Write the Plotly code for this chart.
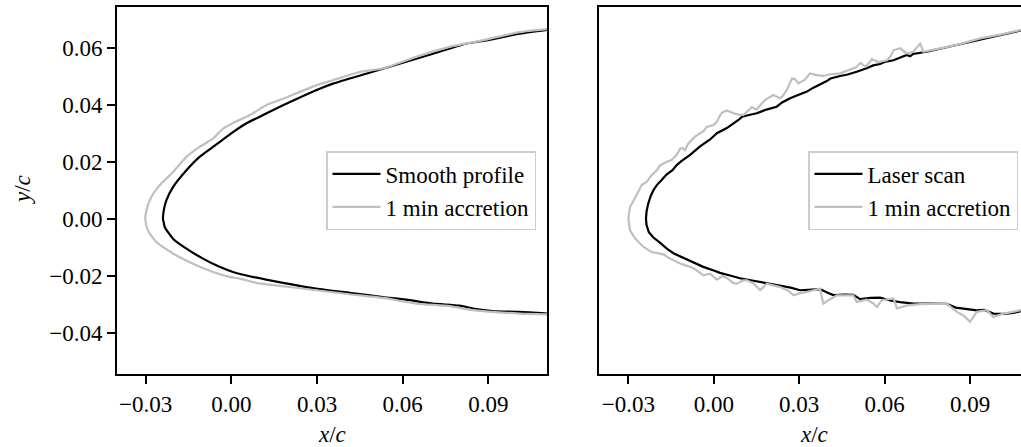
import plotly.graph_objects as go

# ---------------- data (x/c, y/c), traced from trailing edge (upper) -> nose -> trailing edge (lower)
smooth_profile = [
    (0.1110, 0.0665), (0.1009, 0.0651), (0.0892, 0.0628), (0.0822, 0.0616), (0.0706, 0.0581),
    (0.0589, 0.0546), (0.0472, 0.0511), (0.0356, 0.0476), (0.0297, 0.0453), (0.0181, 0.0400),
    (0.0122, 0.0371), (0.0052, 0.0336), (0.0006, 0.0306), (-0.0017, 0.0289), (-0.0064, 0.0254),
    (-0.0111, 0.0219), (-0.0157, 0.0172), (-0.0204, 0.0113), (-0.0227, 0.0067), (-0.0236, 0.0033),
    (-0.0239, 0.0000), (-0.0236, -0.0013), (-0.0233, -0.0027), (-0.0204, -0.0068), (-0.0157, -0.0103),
    (-0.0099, -0.0138), (-0.0041, -0.0167), (0.0006, -0.0185), (0.0064, -0.0200), (0.0181, -0.0223),
    (0.0297, -0.0243), (0.0414, -0.0258), (0.0531, -0.0273), (0.0612, -0.0282), (0.0706, -0.0296),
    (0.0799, -0.0303), (0.0846, -0.0313), (0.0915, -0.0322), (0.1009, -0.0325), (0.1110, -0.0331),
]

smooth_accretion = [
    (0.1110, 0.0668), (0.1009, 0.0657), (0.0880, 0.0628), (0.0764, 0.0605), (0.0647, 0.0570),
    (0.0531, 0.0529), (0.0449, 0.0517), (0.0356, 0.0488), (0.0297, 0.0470), (0.0181, 0.0423),
    (0.0122, 0.0400), (0.0064, 0.0365), (0.0006, 0.0338), (-0.0029, 0.0318), (-0.0064, 0.0283),
    (-0.0111, 0.0254), (-0.0157, 0.0219), (-0.0204, 0.0166), (-0.0251, 0.0119), (-0.0280, 0.0078),
    (-0.0297, 0.0032), (-0.0301, 0.0000), (-0.0292, -0.0039), (-0.0262, -0.0080), (-0.0204, -0.0120),
    (-0.0134, -0.0156), (-0.0064, -0.0185), (-0.0006, -0.0202), (0.0029, -0.0208), (0.0087, -0.0223),
    (0.0181, -0.0235), (0.0297, -0.0249), (0.0414, -0.0263), (0.0531, -0.0276), (0.0647, -0.0296),
    (0.0764, -0.0305), (0.0846, -0.0319), (0.1009, -0.0331), (0.1110, -0.0334),
]

laser_scan = [
    (0.1080, 0.0663), (0.0936, 0.0630), (0.0842, 0.0607), (0.0748, 0.0588), (0.0700, 0.0580),
    (0.0690, 0.0572), (0.0678, 0.0577), (0.0631, 0.0558), (0.0600, 0.0552), (0.0584, 0.0545),
    (0.0560, 0.0540), (0.0537, 0.0530), (0.0502, 0.0518), (0.0470, 0.0508), (0.0444, 0.0503),
    (0.0410, 0.0494), (0.0397, 0.0485), (0.0373, 0.0474), (0.0350, 0.0462), (0.0327, 0.0448),
    (0.0300, 0.0438), (0.0268, 0.0425), (0.0240, 0.0410), (0.0221, 0.0395), (0.0185, 0.0385),
    (0.0151, 0.0372), (0.0120, 0.0365), (0.0100, 0.0360), (0.0088, 0.0350), (0.0075, 0.0340),
    (0.0046, 0.0320), (0.0011, 0.0302), (-0.0013, 0.0280), (-0.0048, 0.0256), (-0.0083, 0.0226),
    (-0.0115, 0.0203), (-0.0130, 0.0190), (-0.0145, 0.0172), (-0.0165, 0.0158), (-0.0183, 0.0138),
    (-0.0200, 0.0120), (-0.0212, 0.0102), (-0.0222, 0.0080), (-0.0230, 0.0055), (-0.0236, 0.0028),
    (-0.0238, 0.0002), (-0.0236, -0.0020), (-0.0228, -0.0045), (-0.0212, -0.0064), (-0.0189, -0.0082),
    (-0.0165, -0.0103), (-0.0140, -0.0120), (-0.0107, -0.0135), (-0.0075, -0.0150), (-0.0037, -0.0167),
    (0.0000, -0.0180), (0.0022, -0.0188), (0.0060, -0.0198), (0.0092, -0.0207), (0.0130, -0.0214),
    (0.0163, -0.0220), (0.0200, -0.0227), (0.0233, -0.0232), (0.0270, -0.0240), (0.0303, -0.0249),
    (0.0330, -0.0247), (0.0373, -0.0245), (0.0400, -0.0258), (0.0420, -0.0266), (0.0460, -0.0264),
    (0.0490, -0.0265), (0.0514, -0.0280), (0.0550, -0.0276), (0.0584, -0.0275), (0.0620, -0.0285),
    (0.0654, -0.0291), (0.0701, -0.0296), (0.0760, -0.0296), (0.0818, -0.0297), (0.0850, -0.0310),
    (0.0890, -0.0316), (0.0924, -0.0320), (0.0950, -0.0318), (0.0982, -0.0331), (0.1020, -0.0332),
    (0.1052, -0.0329), (0.1080, -0.0322),
]

scan_accretion = [
    (0.1080, 0.0665), (0.1006, 0.0648), (0.0936, 0.0635), (0.0889, 0.0623), (0.0854, 0.0612),
    (0.0795, 0.0600), (0.0750, 0.0590), (0.0736, 0.0588), (0.0730, 0.0605), (0.0725, 0.0616),
    (0.0715, 0.0605), (0.0701, 0.0588), (0.0678, 0.0582), (0.0654, 0.0600), (0.0631, 0.0593),
    (0.0620, 0.0570), (0.0608, 0.0558), (0.0578, 0.0552), (0.0565, 0.0558), (0.0555, 0.0562),
    (0.0545, 0.0548), (0.0532, 0.0535), (0.0520, 0.0545), (0.0514, 0.0549), (0.0500, 0.0533),
    (0.0490, 0.0530), (0.0444, 0.0512), (0.0409, 0.0509), (0.0385, 0.0503), (0.0362, 0.0506),
    (0.0338, 0.0512), (0.0320, 0.0490), (0.0297, 0.0477), (0.0285, 0.0492), (0.0275, 0.0494),
    (0.0256, 0.0453), (0.0240, 0.0430), (0.0233, 0.0425), (0.0209, 0.0436), (0.0190, 0.0425),
    (0.0180, 0.0418), (0.0169, 0.0406), (0.0160, 0.0395), (0.0150, 0.0385), (0.0134, 0.0394),
    (0.0118, 0.0380), (0.0104, 0.0366), (0.0085, 0.0368), (0.0069, 0.0372), (0.0046, 0.0382),
    (0.0030, 0.0375), (0.0022, 0.0365), (0.0010, 0.0340), (-0.0001, 0.0331), (-0.0025, 0.0324),
    (-0.0035, 0.0310), (-0.0048, 0.0302), (-0.0066, 0.0290), (-0.0089, 0.0266), (-0.0101, 0.0243),
    (-0.0110, 0.0250), (-0.0118, 0.0248), (-0.0130, 0.0226), (-0.0148, 0.0208), (-0.0165, 0.0202),
    (-0.0189, 0.0189), (-0.0200, 0.0172), (-0.0218, 0.0155), (-0.0235, 0.0132), (-0.0253, 0.0120),
    (-0.0265, 0.0097), (-0.0282, 0.0068), (-0.0294, 0.0043), (-0.0300, 0.0002), (-0.0294, -0.0039),
    (-0.0276, -0.0068), (-0.0260, -0.0085), (-0.0247, -0.0097), (-0.0218, -0.0115), (-0.0195, -0.0120),
    (-0.0177, -0.0123), (-0.0154, -0.0138), (-0.0118, -0.0155), (-0.0083, -0.0167), (-0.0060, -0.0179),
    (-0.0037, -0.0197), (-0.0013, -0.0191), (0.0011, -0.0212), (0.0030, -0.0200), (0.0046, -0.0206),
    (0.0069, -0.0224), (0.0081, -0.0226), (0.0104, -0.0214), (0.0116, -0.0214), (0.0140, -0.0225),
    (0.0163, -0.0249), (0.0175, -0.0235), (0.0186, -0.0226), (0.0233, -0.0238), (0.0260, -0.0250),
    (0.0280, -0.0267), (0.0300, -0.0260), (0.0327, -0.0255), (0.0373, -0.0243), (0.0380, -0.0275),
    (0.0385, -0.0296), (0.0403, -0.0284), (0.0432, -0.0267), (0.0490, -0.0267), (0.0502, -0.0290),
    (0.0537, -0.0282), (0.0560, -0.0295), (0.0573, -0.0308), (0.0590, -0.0284), (0.0631, -0.0278),
    (0.0643, -0.0313), (0.0678, -0.0302), (0.0725, -0.0298), (0.0818, -0.0296), (0.0854, -0.0325),
    (0.0880, -0.0340), (0.0900, -0.0360), (0.0924, -0.0325), (0.0959, -0.0319), (0.0982, -0.0343),
    (0.1017, -0.0331), (0.1050, -0.0325), (0.1080, -0.0319),
]

x_tickvals = [-0.03, 0.00, 0.03, 0.06, 0.09]
x_ticktext = ["\u22120.03", "0.00", "0.03", "0.06", "0.09"]
y_tickvals = [-0.04, -0.02, 0.00, 0.02, 0.04, 0.06]
y_ticktext = ["\u22120.04", "\u22120.02", "0.00", "0.02", "0.04", "0.06"]

BLACK = "#000000"
GREY = "#bfbfbf"
FONT = "Liberation Serif"
FS = 23
FS_LEG = 23
LW = 2.2


def xs(pts):
    return [p[0] for p in pts]


def ys(pts):
    return [p[1] for p in pts]


fig = go.Figure()
fig.add_trace(go.Scatter(x=xs(smooth_profile), y=ys(smooth_profile), mode="lines",
                         line=dict(color=BLACK, width=LW, shape="spline", smoothing=0.6),
                         name="Smooth profile", xaxis="x", yaxis="y", legend="legend"))
fig.add_trace(go.Scatter(x=xs(smooth_accretion), y=ys(smooth_accretion), mode="lines",
                         line=dict(color=GREY, width=LW, shape="spline", smoothing=0.6),
                         name="1 min accretion", xaxis="x", yaxis="y", legend="legend"))
fig.add_trace(go.Scatter(x=xs(laser_scan), y=ys(laser_scan), mode="lines",
                         line=dict(color=BLACK, width=LW),
                         name="Laser scan", xaxis="x2", yaxis="y2", legend="legend2"))
fig.add_trace(go.Scatter(x=xs(scan_accretion), y=ys(scan_accretion), mode="lines",
                         line=dict(color=GREY, width=LW),
                         name="1 min accretion", xaxis="x2", yaxis="y2", legend="legend2"))

W, H = 1021, 447
ML, MR, MT, MB = 117, 0, 7, 73
PW = W - ML - MR
PH = H - MT - MB

axis_common = dict(showgrid=False, zeroline=False, showline=True, linecolor=BLACK, linewidth=1.8,
                   ticks="outside", ticklen=8, tickwidth=1.8, tickcolor=BLACK,
                   tickfont=dict(family=FONT, size=FS, color=BLACK))

legend_common = dict(bgcolor="rgba(255,255,255,0.85)", bordercolor="#cccccc", borderwidth=1.5,
                     font=dict(family=FONT, size=FS_LEG, color=BLACK), xanchor="right", yanchor="top",
                     y=1 - (151 - MT) / PH, tracegroupgap=0, itemwidth=48)

fig.update_layout(
    width=W, height=H, margin=dict(l=ML, r=MR, t=MT, b=MB, autoexpand=False),
    paper_bgcolor="white", plot_bgcolor="white", showlegend=True,
    xaxis=dict(domain=[0, 430 / PW], range=[-0.0400, 0.1105], tickvals=x_tickvals,
               ticktext=x_ticktext, mirror=True, anchor="y", **axis_common),
    yaxis=dict(domain=[0, 1], range=[-0.0543, 0.0745], tickvals=y_tickvals,
               ticktext=y_ticktext, mirror=True, anchor="x", **axis_common),
    xaxis2=dict(domain=[482 / PW, 1], range=[-0.0403, 0.1079], tickvals=x_tickvals,
                ticktext=x_ticktext, mirror=True, anchor="y2", **axis_common),
    yaxis2=dict(domain=[0, 1], range=[-0.0543, 0.0745], matches="y", anchor="x2",
                showgrid=False, zeroline=False, showline=True, linecolor=BLACK, linewidth=1.8,
                mirror=False, ticks="", showticklabels=False),
    legend=dict(x=(536 - ML) / PW, **legend_common),
    legend2=dict(x=(1018 - ML) / PW, **legend_common),
    annotations=[
        dict(text="<i>x</i>/<i>c</i>", xref="paper", yref="paper", x=(332 - ML) / PW,
             y=-(434 - (MT + PH)) / PH, xanchor="center", yanchor="middle", showarrow=False,
             font=dict(family=FONT, size=FS, color=BLACK)),
        dict(text="<i>x</i>/<i>c</i>", xref="paper", yref="paper", x=(814 - ML) / PW,
             y=-(434 - (MT + PH)) / PH, xanchor="center", yanchor="middle", showarrow=False,
             font=dict(family=FONT, size=FS, color=BLACK)),
        dict(text="<i>y</i>/<i>c</i>", xref="paper", yref="paper", x=(22 - ML) / PW,
             y=(MT + PH - 190) / PH, xanchor="center", yanchor="middle", showarrow=False,
             textangle=-90, font=dict(family=FONT, size=FS, color=BLACK)),
    ],
)

fig.write_html("out.html", config={"displayModeBar": False},
               post_script="document.body.style.margin='0';document.body.style.overflow='hidden';")
